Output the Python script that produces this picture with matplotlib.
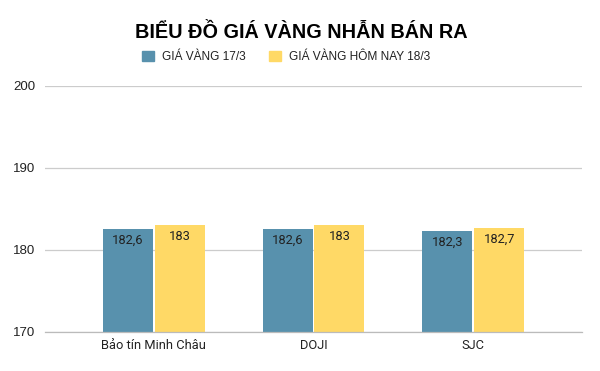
import matplotlib
matplotlib.use("Agg")
import matplotlib.pyplot as plt
import numpy as np
from matplotlib.patches import Patch

categories = ["Bảo tín Minh Châu", "DOJI", "SJC"]
gia_17 = [182.6, 182.6, 182.3]
gia_18 = [183, 183, 182.7]
labels_17 = ["182,6", "182,6", "182,3"]
labels_18 = ["183", "183", "182,7"]
series_names = ["GIÁ VÀNG 17/3", "GIÁ VÀNG HÔM NAY 18/3"]
yticks = [170, 180, 190, 200]

c1 = "#5891AD"
c2 = "#FFD966"

fig = plt.figure(figsize=(6, 3.71), dpi=100)
ax = fig.add_axes([45/600, 1-332/371, (582-45)/600, (332-86)/371])

x = np.arange(len(categories))
w = 0.3125
gap = 0.006
b1 = ax.bar(x - w/2 - gap, gia_17, w, color=c1, bottom=0, zorder=3)
b2 = ax.bar(x + w/2 + gap, gia_18, w, color=c2, bottom=0, zorder=3)

for rects, labs in ((b1, labels_17), (b2, labels_18)):
    for r, lab in zip(rects, labs):
        ax.annotate(lab, (r.get_x() + r.get_width()/2, r.get_height()),
                    xytext=(0, -3.5), textcoords="offset points",
                    ha="center", va="top", fontsize=9.3, family="Roboto",
                    color="#222222", zorder=4)

ax.set_ylim(170, 200)
ax.set_xlim(-0.68, 2.68)
ax.set_yticks(yticks)
ax.set_yticklabels([str(t) for t in yticks], fontsize=9.5, family="Liberation Sans", color="#222222")
ax.set_xticks(x)
ax.set_xticklabels(categories, fontsize=9.3, family="Roboto", color="#222222")
ax.tick_params(axis="both", length=0, pad=5)
ax.tick_params(axis="y", pad=7)
ax.grid(axis="y", color="#cccccc", linewidth=0.9, zorder=0)
for s in ["top", "right", "left"]:
    ax.spines[s].set_visible(False)
ax.spines["bottom"].set_color("#bbbbbb")
ax.spines["bottom"].set_linewidth(0.9)
ax.spines["bottom"].set_zorder(5)

fig.text(0.502, 1-32/371, "BIỂU ĐỒ GIÁ VÀNG NHẪN BÁN RA", ha="center", va="center",
         fontsize=14.3, fontweight="bold", family="Liberation Sans", color="#000000")

handles = [Patch(color=c1), Patch(color=c2)]
leg = fig.legend(handles, series_names, loc="center", bbox_to_anchor=(286/600, 1-57/371),
                 ncol=2, frameon=False, prop={"family": "Liberation Sans", "size": 8.6},
                 handlelength=1.0, handleheight=1.0, handletextpad=0.7, columnspacing=1.9)
for t in leg.get_texts():
    t.set_color("#222222")

fig.savefig("out.png", dpi=100)
